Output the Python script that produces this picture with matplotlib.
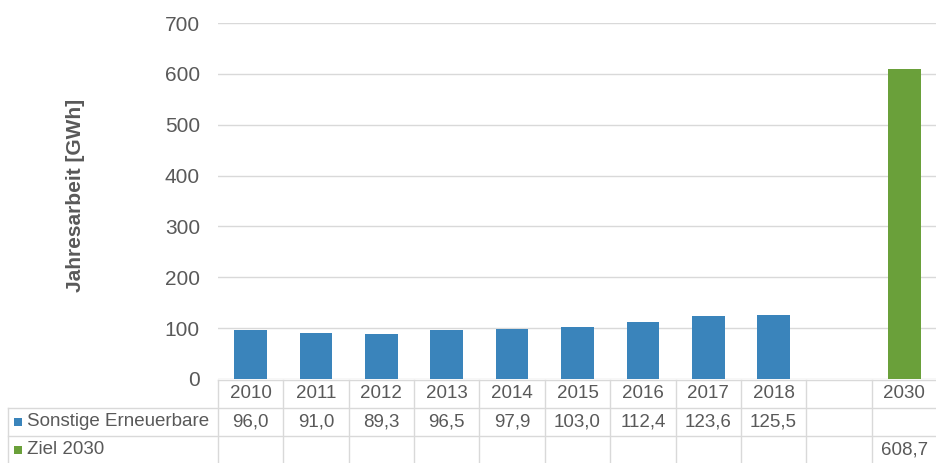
import numpy as np
import matplotlib
matplotlib.use("Agg")
import matplotlib.pyplot as plt
from matplotlib.transforms import blended_transform_factory
from matplotlib.lines import Line2D
from matplotlib.patches import Rectangle

plt.rcParams['font.family'] = ['Liberation Sans', 'DejaVu Sans']

# Daten
kategorien = ['2010', '2011', '2012', '2013', '2014', '2015', '2016', '2017', '2018', '', '2030']
sonstige = [96.0, 91.0, 89.3, 96.5, 97.9, 103.0, 112.4, 123.6, 125.5, np.nan, np.nan]
ziel = [np.nan] * 10 + [608.7]
serien = ['Sonstige Erneuerbare', 'Ziel 2030']

blau = '#3A84BB'
gruen = '#6AA03A'
grau = '#595959'
linie = '#d9d9d9'

W, H = 937, 463
fig = plt.figure(figsize=(W / 100, H / 100), dpi=100)
ax = fig.add_axes([218 / W, 1 - 379 / H, (W - 218) / W, (379 - 23) / H])

x = np.arange(len(kategorien))
ax.bar(x, sonstige, 0.5, color=blau)
ax.bar(x, ziel, 0.5, color=gruen)

ax.set_xlim(-0.5, len(kategorien) - 0.5)
ax.set_ylim(0, 700)
ax.set_yticks(range(0, 701, 100))
ax.tick_params(axis='y', length=0, pad=13, labelsize=15, labelcolor=grau)
ax.set_xticks([])
ax.grid(axis='y', color=linie, linewidth=1)
ax.set_axisbelow(True)
for s in ax.spines.values():
    s.set_visible(False)
ax.set_ylabel('Jahresarbeit [GWh]', fontsize=15, fontweight='bold', color=grau)
ax.yaxis.set_label_coords((85 - 218) / (W - 218), (379 - 195) / (379 - 23))

# Datentabelle
tr = blended_transform_factory(ax.transData, fig.transFigure)
fy = lambda py: 1 - py / H
fx = lambda px: px / W
grenzen = np.arange(len(kategorien) + 1) - 0.5

for g in grenzen:
    fig.add_artist(Line2D([g, g], [fy(380), fy(463)], transform=tr, color=linie, lw=1))
fig.add_artist(Line2D([fx(218), 1], [fy(380), fy(380)], transform=fig.transFigure, color=linie, lw=1))
for py in (408, 436):
    fig.add_artist(Line2D([fx(8), 1], [fy(py), fy(py)], transform=fig.transFigure, color=linie, lw=1))
fig.add_artist(Line2D([fx(8), fx(8)], [fy(408), fy(463)], transform=fig.transFigure, color=linie, lw=1))

fs = 13.5
for i, k in enumerate(kategorien):
    fig.text(i, fy(394), k, transform=tr, ha='center', va='center', fontsize=fs, color=grau)
    if not np.isnan(sonstige[i]):
        fig.text(i, fy(422), f'{sonstige[i]:.1f}'.replace('.', ','), transform=tr,
                 ha='center', va='center', fontsize=fs, color=grau)
    if not np.isnan(ziel[i]):
        fig.text(i, fy(450), f'{ziel[i]:.1f}'.replace('.', ','), transform=tr,
                 ha='center', va='center', fontsize=fs, color=grau)

for name, farbe, py in zip(serien, [blau, gruen], [422, 450]):
    fig.add_artist(Rectangle((fx(14), fy(py + 4)), 8 / W, 8 / H, transform=fig.transFigure,
                             color=farbe, lw=0))
    fig.text(fx(27), fy(py), name, ha='left', va='center', fontsize=fs, color=grau)

fig.savefig('out.png', dpi=100)
